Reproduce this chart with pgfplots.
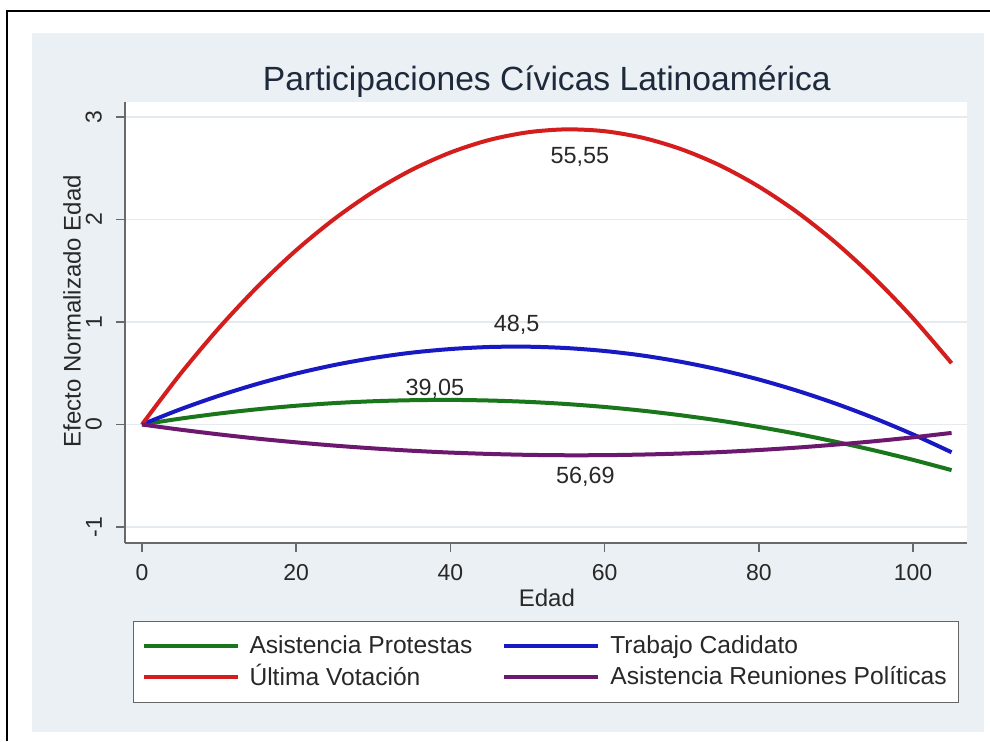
\documentclass[border=0pt]{standalone}
\usepackage{fontspec}
\setmainfont{Liberation Sans}
\usepackage{pgfplots}
\usepackage{pgfplotstable}
\pgfplotsset{compat=1.18}
\definecolor{bgc}{RGB}{234,240,243}
\definecolor{gridc}{RGB}{228,234,237}
\definecolor{axc}{RGB}{105,105,105}
\definecolor{cgreen}{RGB}{26,118,26}
\definecolor{cred}{RGB}{212,30,30}
\definecolor{cblue}{RGB}{25,25,195}
\definecolor{cpurple}{RGB}{108,24,110}
\definecolor{titc}{RGB}{30,42,60}
\definecolor{txtc}{RGB}{40,40,40}

\pgfplotstableread{
x y
0 0
5 0.0575
10 0.107
15 0.149
20 0.183
25 0.209
30 0.227
35 0.237
40 0.240
45 0.234
50 0.221
55 0.200
60 0.171
65 0.134
70 0.089
75 0.037
80 -0.024
85 -0.092
90 -0.169
95 -0.253
100 -0.345
105 -0.445
}\protestas

\pgfplotstableread{
x y
0 0
5 0.149
10 0.281
15 0.397
20 0.497
25 0.581
30 0.649
35 0.701
40 0.736
45 0.756
50 0.759
55 0.746
60 0.717
65 0.672
70 0.610
75 0.533
80 0.439
85 0.329
90 0.203
95 0.061
100 -0.097
105 -0.271
}\trabajo

\pgfplotstableread{
x y
0 0
5 0.495
10 0.943
15 1.345
20 1.700
25 2.008
30 2.270
35 2.485
40 2.653
45 2.775
50 2.850
55 2.879
60 2.861
65 2.796
70 2.684
75 2.526
80 2.321
85 2.070
90 1.772
95 1.427
100 1.036
105 0.598
}\votacion

\pgfplotstableread{
x y
0 0
5 -0.0506
10 -0.0965
15 -0.138
20 -0.174
25 -0.206
30 -0.233
35 -0.256
40 -0.274
45 -0.287
50 -0.296
55 -0.300
60 -0.299
65 -0.293
70 -0.283
75 -0.269
80 -0.249
85 -0.225
90 -0.196
95 -0.163
100 -0.125
105 -0.082
}\reuniones

\begin{document}
\begin{tikzpicture}
\path[use as bounding box] (0,0) rectangle (495pt,370.5pt);
\fill[bgc] (16pt,4.5pt) rectangle (492pt,354pt);
\draw[black, line width=0.8pt] (3.5pt,0pt) -- (3.5pt,365pt) -- (495pt,365pt);
\begin{axis}[
  at={(62.5pt,99pt)}, anchor=south west,
  scale only axis, width=421pt, height=220.5pt,
  xmin=-2.2, xmax=107.0, ymin=-1.156, ymax=3.146,
  axis x line*=bottom, axis y line*=left,
  axis line style={axc, line width=0.8pt},
  axis background/.style={fill=white},
  xtick={0,20,40,60,80,100}, ytick={-1,0,1,2,3},
  tick align=outside, major tick length=4.5pt,
  tick style={axc, line width=0.7pt},
  ymajorgrids, grid style={gridc, line width=0.8pt},
  /pgf/number format/assume math mode=true,
  ticklabel style={font=\fontsize{11.5}{13}\selectfont, text=txtc},
  yticklabel style={rotate=90, anchor=south, yshift=3.5pt},
  xticklabel style={yshift=-2.5pt},
  title={Participaciones Cívicas Latinoamérica},
  title style={at={(axis description cs:0.501,1.018)}, anchor=center, yshift=0pt, font=\fontsize{16.8}{20}\selectfont, text=titc},
  xlabel={Edad},
  xlabel style={at={(axis description cs:0.501,-0.125)}, anchor=center, font=\fontsize{12}{14}\selectfont, text=txtc},
  ylabel={Efecto Normalizado Edad},
  ylabel style={at={(axis description cs:-0.063,0.526)}, anchor=center, font=\fontsize{12}{14}\selectfont, text=txtc},
  legend columns=2,
  legend cell align=left,
  legend image code/.code={\draw[#1, line width=2pt] (0pt,0pt) -- (47pt,0pt); \path (50pt,0pt);},
  legend style={at={(axis description cs:0.0095,-0.177)}, anchor=north west,
    draw=gray!80!black, line width=0.5pt, fill=white,
    font=\fontsize{12.3}{14}\selectfont, text=txtc,
    /tikz/every even column/.append style={column sep=13pt},
    inner xsep=4pt, inner ysep=5pt,
    row sep=0pt},
]
\addplot[cgreen, line width=2pt, smooth] table[x=x,y=y] {\protestas};
\addlegendentry{Asistencia Protestas}
\addplot[cblue, line width=2pt, smooth] table[x=x,y=y] {\trabajo};
\addlegendentry{Trabajo Cadidato}
\addplot[cred, line width=2pt, smooth] table[x=x,y=y] {\votacion};
\addlegendentry{Última Votación}
\addplot[cpurple, line width=2pt, smooth] table[x=x,y=y] {\reuniones};
\addlegendentry{Asistencia Reuniones Políticas}
\node[font=\fontsize{11.7}{14}\selectfont, text=txtc] at (axis cs:56.8,2.61) {55,55};
\node[font=\fontsize{11.7}{14}\selectfont, text=txtc] at (axis cs:48.6,0.97) {48,5};
\node[font=\fontsize{11.7}{14}\selectfont, text=txtc] at (axis cs:38.0,0.346) {39,05};
\node[font=\fontsize{11.7}{14}\selectfont, text=txtc] at (axis cs:57.5,-0.512) {56,69};
\end{axis}
\end{tikzpicture}
\end{document}
